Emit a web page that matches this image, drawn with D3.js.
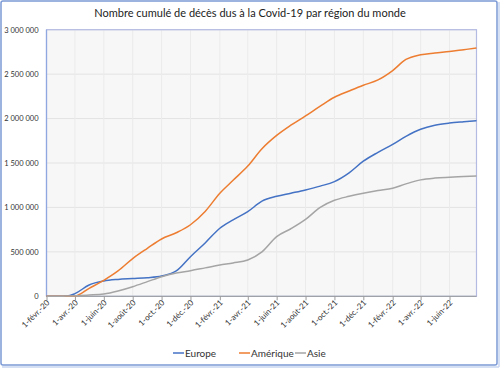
<!DOCTYPE html>
<html><head><meta charset="utf-8">
<script src="https://cdn.jsdelivr.net/npm/d3@7"></script>
<style>
html,body{margin:0;padding:0;background:#fff;}
svg{display:block;font-family:Lato,"Open Sans",sans-serif;}
</style></head>
<body>
<svg id="c" width="500" height="368"></svg>
<script>
const title = "Nombre cumulé de décès dus à la Covid-19 par région du monde";
const dates = ["2020-02-01","2020-03-01","2020-03-15","2020-04-01","2020-05-01","2020-06-01","2020-07-01","2020-08-01","2020-09-01","2020-10-01","2020-11-01","2020-12-01",
"2021-01-01","2021-02-01","2021-03-01","2021-04-01","2021-05-01","2021-06-01","2021-07-01","2021-08-01","2021-09-01","2021-10-01","2021-11-01","2021-12-01",
"2022-01-01","2022-02-01","2022-03-01","2022-04-01","2022-05-01","2022-06-01","2022-07-01","2022-07-28"];
const europe = [0,0,2000,30000,127000,172000,190000,200000,210000,229000,285000,446000,
600000,766000,860000,953000,1070000,1125000,1160000,1197000,1240000,1291000,1390000,1520000,
1620000,1710000,1800000,1880000,1925000,1950000,1965000,1977000];
const amerique = [0,0,0,3000,90000,180000,285000,425000,540000,645000,715000,805000,
955000,1160000,1305000,1465000,1660000,1810000,1925000,2030000,2140000,2240000,2310000,2375000,
2435000,2540000,2665000,2718000,2738000,2755000,2775000,2793000];
const asie = [0,1000,2000,6000,14000,26000,60000,108000,165000,221000,262000,288000,
320000,352000,375000,409000,500000,671000,760000,865000,1000000,1080000,1125000,1160000,
1190000,1216000,1265000,1310000,1330000,1340000,1348000,1355000];
const seriesNames = ["Europe","Amérique","Asie"];
const seriesColors = ["#4472C4","#ED7D31","#A5A5A5"];
const yTicks = [0,500000,1000000,1500000,2000000,2500000,3000000];
const xTickDates = ["2020-02-01","2020-04-01","2020-06-01","2020-08-01","2020-10-01","2020-12-01","2021-02-01","2021-04-01","2021-06-01","2021-08-01","2021-10-01","2021-12-01","2022-02-01","2022-04-01","2022-06-01"];
const xTickLabels = ["1-févr.-20","1-avr.-20","1-juin-20","1-août-20","1-oct.-20","1-déc.-20","1-févr.-21","1-avr.-21","1-juin-21","1-août-21","1-oct.-21","1-déc.-21","1-févr.-22","1-avr.-22","1-juin-22"];

const svg = d3.select("#c");
const parse = d3.utcParse("%Y-%m-%d");
const L = 46.5, R = 476.5, T = 29.7, B = 296.3;

// outer frame
svg.append("rect").attr("x",1).attr("y",1).attr("width",496).attr("height",364)
  .attr("fill","#fff").attr("stroke","#7c9bd6").attr("stroke-width",1.5).attr("rx",2);
svg.append("line").attr("x1",499).attr("x2",499).attr("y1",2).attr("y2",367).attr("stroke","#c9d6f0").attr("stroke-width",1.5);
svg.append("line").attr("x1",2).attr("x2",499).attr("y1",367).attr("y2",367).attr("stroke","#c9d6f0").attr("stroke-width",1.5);

const x = d3.scaleUtc().domain([parse("2020-02-01"), parse("2022-07-28")]).range([L,R]);
const y = d3.scaleLinear().domain([0,3000000]).range([B,T]);

svg.append("rect").attr("x",L).attr("y",T).attr("width",R-L).attr("height",B-T).attr("fill","#f7f7f7");

// gridlines
svg.append("g").selectAll("line").data(yTicks.slice(1)).join("line")
  .attr("x1",L).attr("x2",R).attr("y1",d=>y(d)).attr("y2",d=>y(d))
  .attr("stroke","#e3e3e3").attr("stroke-width",1);
svg.append("g").selectAll("line").data(xTickDates.slice(1)).join("line")
  .attr("x1",d=>x(parse(d))).attr("x2",d=>x(parse(d))).attr("y1",T).attr("y2",B)
  .attr("stroke","#ebebeb").attr("stroke-width",1);

// plot border
svg.append("rect").attr("x",L).attr("y",T).attr("width",R-L).attr("height",B-T)
  .attr("fill","none").attr("stroke","#b3bbe3").attr("stroke-width",1.2);
svg.append("line").attr("x1",L).attr("x2",L).attr("y1",T).attr("y2",B)
  .attr("stroke","#8fa8e0").attr("stroke-width",1.2);

// y axis labels
const fmt = v => d3.format(",")(v).replace(/,/g," ");
svg.append("g").selectAll("text").data(yTicks).join("text")
  .attr("x",38.5).attr("y",d=>y(d)+2.8).attr("text-anchor","end")
  .attr("font-size",7.5).attr("fill","#333").text(fmt);

// x axis
const xAxis = d3.axisBottom(x).tickValues(xTickDates.map(parse)).tickSize(4)
  .tickFormat((d,i)=>xTickLabels[i]);
const gx = svg.append("g").attr("transform",`translate(0,${B})`).call(xAxis);
gx.select(".domain").attr("stroke","#9a9a9a").attr("d",`M${L},0H${R}`);
gx.selectAll(".tick line").attr("stroke","#9a9a9a");
gx.selectAll(".tick text").attr("font-size",8).attr("fill","#333")
  .attr("font-family","Lato,'Open Sans',sans-serif")
  .attr("text-anchor","end").attr("dy",0).attr("y",0)
  .attr("transform","translate(3,7) rotate(-45)");

// lines
const all = [europe, amerique, asie];
const line = d3.line().x((d,i)=>x(parse(dates[i]))).y(d=>y(d)).curve(d3.curveMonotoneX);
svg.append("g").selectAll("path").data(all).join("path")
  .attr("d",d=>line(d)).attr("fill","none")
  .attr("stroke",(d,i)=>seriesColors[i]).attr("stroke-width",1.5);

// title
svg.append("text").attr("x",250).attr("y",17).attr("text-anchor","middle")
  .attr("font-size",11).attr("fill","#222").text(title);

// legend
const legX = [173, 239, 295];
const lg = svg.append("g").selectAll("g").data(seriesNames).join("g")
  .attr("transform",(d,i)=>`translate(${legX[i]},353)`);
lg.append("line").attr("x1",0).attr("x2",11).attr("y1",0).attr("y2",0)
  .attr("stroke",(d,i)=>seriesColors[i]).attr("stroke-width",1.5);
lg.append("text").attr("x",12).attr("y",3.5).attr("font-size",10).attr("fill","#333").text(d=>d);
</script>
</body></html>
